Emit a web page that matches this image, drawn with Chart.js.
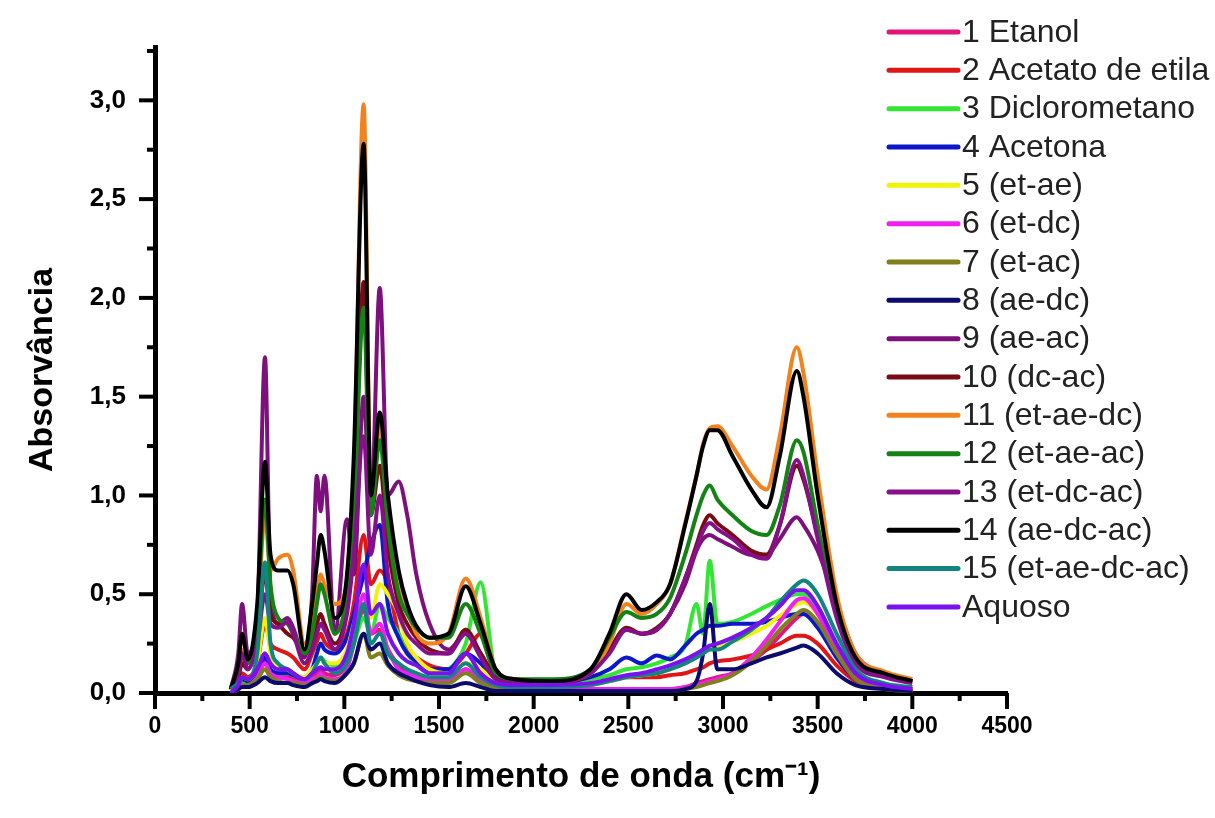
<!DOCTYPE html>
<html>
<head>
<meta charset="utf-8">
<script src="https://cdn.jsdelivr.net/npm/chart.js@4"></script>
<style>
html,body{margin:0;padding:0;background:#fff;}
#wrap{width:1215px;height:818px;position:relative;}
</style>
</head>
<body>
<div id="wrap"><canvas id="c"></canvas></div>
<script>
const FONT = '"Liberation Sans", Arial, Helvetica, sans-serif';

// shared wavenumber grid (cm-1)
const wavenumbers = [400, 440, 460, 490, 540, 581, 610, 650, 700, 730, 790, 830, 855, 875, 895, 950, 1014, 1050, 1102, 1140, 1187, 1230, 1287, 1332, 1380, 1450, 1550, 1641, 1720, 1800, 1900, 2100, 2300, 2400, 2490, 2570, 2650, 2720, 2800, 2860, 2895, 2930, 2970, 3050, 3150, 3230, 3300, 3390, 3425, 3500, 3600, 3700, 3850, 4000];

const seriesNames = ['1 Etanol', '2 Acetato de etila', '3 Diclorometano', '4 Acetona', '5 (et-ae)', '6 (et-dc)', '7 (et-ac)', '8 (ae-dc)', '9 (ae-ac)', '10 (dc-ac)', '11 (et-ae-dc)', '12 (et-ae-ac)', '13 (et-dc-ac)', '14 (ae-dc-ac)', '15 (et-ae-dc-ac)', 'Aquoso'];
const seriesColors = ['#e2157c', '#e01515', '#33e633', '#0c18c8', '#f2f20a', '#f020f0', '#7f7f1e', '#0b0b6e', '#7e107e', '#7a0a14', '#f2821e', '#148214', '#86108a', '#000000', '#138580', '#7a12ee'];

const etanol = [0.01,0.03,0.05,0.04,0.08, 0.16,0.1,0.08,0.08,0.07, 0.05,0.08,0.1,0.12,0.1, 0.09,0.15,0.25,0.42,0.3, 0.32,0.22,0.14,0.1,0.08, 0.06,0.06,0.12,0.06,0.03, 0.02,0.02,0.02,0.02,0.02, 0.02,0.02,0.02,0.03,0.05, 0.06,0.07,0.08,0.1,0.16, 0.22,0.29,0.38,0.4,0.34, 0.18,0.07,0.03,0.02];
const acetatoEtila = [0.01,0.05,0.1,0.08,0.15, 0.35,0.25,0.22,0.2,0.18, 0.12,0.2,0.26,0.3,0.26, 0.22,0.3,0.45,0.8,0.55, 0.62,0.55,0.3,0.22,0.18, 0.14,0.12,0.2,0.3,0.08, 0.05,0.04,0.05,0.06,0.08, 0.08,0.08,0.09,0.1,0.12, 0.13,0.15,0.16,0.17,0.19, 0.22,0.25,0.29,0.29,0.25, 0.14,0.06,0.03,0.02];
const diclorometano = [0.01,0.03,0.06,0.05,0.1, 0.2,0.12,0.1,0.1,0.09, 0.08,0.12,0.16,0.18,0.16, 0.14,0.18,0.25,0.38,0.3, 0.45,0.38,0.3,0.2,0.15, 0.1,0.12,0.25,0.56,0.1, 0.06,0.05,0.07,0.09,0.12, 0.13,0.15,0.18,0.24,0.45, 0.3,0.67,0.35,0.36,0.4, 0.44,0.47,0.5,0.5,0.42, 0.22,0.08,0.03,0.02];
const acetona = [0.01,0.04,0.07,0.06,0.1, 0.18,0.12,0.1,0.1,0.09, 0.07,0.12,0.2,0.25,0.22, 0.2,0.28,0.4,0.6,0.75, 0.85,0.45,0.28,0.2,0.16, 0.12,0.12,0.2,0.15,0.07, 0.05,0.05,0.08,0.12,0.18, 0.15,0.19,0.17,0.24,0.3, 0.32,0.34,0.34,0.35,0.35, 0.36,0.38,0.4,0.4,0.33, 0.18,0.07,0.03,0.02];
const etAe = [0.01,0.04,0.08,0.07,0.15, 0.38,0.2,0.14,0.12,0.1, 0.08,0.12,0.15,0.18,0.15, 0.15,0.22,0.35,0.5,0.38, 0.55,0.5,0.4,0.25,0.18, 0.12,0.1,0.15,0.12,0.05, 0.03,0.03,0.04,0.06,0.08, 0.09,0.1,0.12,0.15,0.18, 0.2,0.22,0.24,0.26,0.3, 0.34,0.39,0.45,0.46,0.4, 0.22,0.08,0.03,0.02];
const etDc = [0.0,0.02,0.04,0.04,0.08, 0.15,0.1,0.08,0.07,0.06, 0.05,0.07,0.08,0.1,0.08, 0.07,0.12,0.25,0.5,0.3, 0.35,0.22,0.12,0.1,0.08, 0.06,0.06,0.12,0.06,0.03, 0.02,0.02,0.02,0.02,0.02, 0.02,0.02,0.02,0.03,0.04, 0.05,0.06,0.07,0.1,0.18, 0.27,0.36,0.47,0.48,0.4, 0.22,0.08,0.03,0.01];
const etAc = [0.0,0.02,0.04,0.04,0.07, 0.12,0.08,0.06,0.05,0.05, 0.04,0.05,0.07,0.08,0.07, 0.06,0.1,0.15,0.3,0.18, 0.2,0.14,0.09,0.07,0.06, 0.05,0.05,0.1,0.05,0.02, 0.01,0.01,0.01,0.01,0.01, 0.01,0.01,0.01,0.02,0.03, 0.04,0.05,0.06,0.09,0.16, 0.24,0.32,0.4,0.42,0.36, 0.2,0.07,0.02,0.01];
const aeDc = [0.0,0.02,0.03,0.03,0.05, 0.08,0.06,0.05,0.05,0.04, 0.03,0.05,0.06,0.07,0.06, 0.05,0.1,0.15,0.3,0.22, 0.25,0.15,0.1,0.08,0.06, 0.04,0.03,0.05,0.03,0.01, 0.01,0.01,0.01,0.01,0.01, 0.01,0.01,0.01,0.02,0.06, 0.2,0.45,0.12,0.12,0.15, 0.18,0.2,0.23,0.24,0.2, 0.1,0.04,0.02,0.01];
const aeAc = [0.02,0.2,0.45,0.2,0.4, 1.7,0.5,0.35,0.38,0.33, 0.18,0.5,1.1,0.92,1.1, 0.3,0.88,0.6,1.5,0.9, 2.05,1.0,1.07,0.9,0.6, 0.35,0.22,0.3,0.2,0.08, 0.06,0.06,0.1,0.22,0.32, 0.3,0.32,0.4,0.55,0.72, 0.78,0.8,0.78,0.74,0.7, 0.7,0.78,0.89,0.85,0.72, 0.45,0.2,0.1,0.06];
const dcAc = [0.02,0.08,0.15,0.12,0.3, 0.6,0.4,0.35,0.3,0.28, 0.2,0.25,0.35,0.4,0.35, 0.25,0.45,0.9,2.08,0.9, 1.15,0.75,0.45,0.35,0.28, 0.22,0.2,0.32,0.2,0.08, 0.05,0.05,0.1,0.22,0.33, 0.3,0.33,0.4,0.58,0.75, 0.85,0.9,0.86,0.8,0.72, 0.7,0.85,1.15,1.08,0.8, 0.4,0.16,0.09,0.06];
const etAeDc = [0.02,0.12,0.22,0.15,0.35, 0.9,0.62,0.68,0.7,0.62, 0.25,0.35,0.5,0.6,0.55, 0.45,0.55,1.1,2.98,1.0, 1.35,0.9,0.55,0.42,0.3, 0.25,0.3,0.58,0.38,0.12, 0.07,0.06,0.1,0.25,0.45, 0.4,0.45,0.55,0.86,1.1, 1.26,1.34,1.35,1.25,1.1, 1.03,1.3,1.75,1.62,1.1, 0.5,0.2,0.11,0.07];
const etAeAc = [0.02,0.1,0.2,0.15,0.4, 0.98,0.55,0.38,0.35,0.3, 0.2,0.3,0.45,0.55,0.5, 0.3,0.5,0.9,1.95,0.9, 1.28,0.85,0.5,0.4,0.33, 0.28,0.28,0.45,0.3,0.1, 0.07,0.07,0.12,0.28,0.41, 0.38,0.4,0.48,0.7,0.9, 1.0,1.05,0.98,0.9,0.82, 0.8,0.95,1.28,1.22,0.85, 0.4,0.15,0.09,0.06];
const etDcAc = [0.02,0.1,0.2,0.12,0.25, 0.5,0.35,0.33,0.36,0.3, 0.15,0.22,0.3,0.35,0.32, 0.22,0.4,0.7,1.3,0.7, 1.0,0.6,0.4,0.3,0.25, 0.2,0.2,0.3,0.18,0.07, 0.05,0.05,0.1,0.2,0.32, 0.3,0.32,0.4,0.58,0.73, 0.82,0.86,0.83,0.78,0.7, 0.68,0.85,1.18,1.1,0.78, 0.38,0.15,0.08,0.05];
const aeDcAc = [0.02,0.15,0.3,0.17,0.45, 1.17,0.7,0.62,0.62,0.55, 0.22,0.45,0.65,0.8,0.72, 0.38,0.6,1.2,2.78,1.0, 1.42,1.0,0.62,0.45,0.34, 0.28,0.3,0.54,0.35,0.12, 0.07,0.06,0.12,0.3,0.5, 0.42,0.46,0.55,0.85,1.1, 1.25,1.33,1.33,1.2,1.03, 0.94,1.2,1.63,1.5,1.0, 0.45,0.18,0.1,0.06];
const etAeDcAc = [0.02,0.05,0.08,0.07,0.2, 0.66,0.25,0.15,0.12,0.1, 0.07,0.1,0.15,0.18,0.15, 0.1,0.15,0.25,0.45,0.25, 0.3,0.2,0.15,0.12,0.1, 0.08,0.08,0.15,0.08,0.04, 0.03,0.03,0.04,0.06,0.08, 0.09,0.1,0.12,0.15,0.18, 0.2,0.22,0.22,0.26,0.32, 0.38,0.46,0.55,0.57,0.5, 0.3,0.12,0.05,0.03];
const aquoso = [0.0,0.04,0.08,0.07,0.12, 0.2,0.15,0.12,0.12,0.1, 0.07,0.1,0.12,0.13,0.12, 0.12,0.2,0.35,0.65,0.4, 0.45,0.3,0.2,0.16,0.14, 0.1,0.1,0.2,0.1,0.05, 0.04,0.04,0.05,0.07,0.09, 0.1,0.12,0.14,0.17,0.2, 0.22,0.24,0.25,0.28,0.33, 0.38,0.44,0.52,0.52,0.44, 0.25,0.1,0.04,0.02];

const seriesValues = [etanol, acetatoEtila, diclorometano, acetona, etAe, etDc, etAc, aeDc, aeAc, dcAc, etAeDc, etAeAc, etDcAc, aeDcAc, etAeDcAc, aquoso];

const datasets = seriesValues.map((vals, i) => ({
  label: seriesNames[i],
  data: wavenumbers.map((w, k) => ({x: w, y: vals[k]})),
  borderColor: seriesColors[i],
  backgroundColor: seriesColors[i],
  borderWidth: 4,
  pointRadius: 0,
  fill: false,
  cubicInterpolationMode: 'monotone',
  order: seriesValues.length - i
}));

const axisTicks = {
  id: 'axisTicks',
  afterDraw(chart) {
    const {ctx, chartArea: a, scales: {x, y}} = chart;
    ctx.save();
    ctx.strokeStyle = '#000';
    ctx.lineWidth = 4;
    ctx.lineCap = 'butt';
    for (let v = 0; v <= 4500; v += 250) {
      const px = x.getPixelForValue(v);
      const len = (v % 500 === 0) ? 16 : 8;
      ctx.beginPath(); ctx.moveTo(px, a.bottom); ctx.lineTo(px, a.bottom + len); ctx.stroke();
    }
    for (let k = 0; k <= 13; k++) {
      const v = k * 0.25;
      const py = y.getPixelForValue(v);
      const len = (k % 2 === 0) ? 16 : 8;
      ctx.beginPath(); ctx.moveTo(a.left, py); ctx.lineTo(a.left - len, py); ctx.stroke();
    }
    ctx.restore();
  }
};

const sideLegend = {
  id: 'sideLegend',
  afterDraw(chart) {
    const ctx = chart.ctx;
    ctx.save();
    ctx.font = '32px ' + FONT;
    ctx.textBaseline = 'middle';
    ctx.textAlign = 'left';
    chart.data.datasets.forEach((ds, i) => {
      const yy = 32 + i * 38.33;
      ctx.strokeStyle = ds.borderColor;
      ctx.lineWidth = 5;
      ctx.lineCap = 'round';
      ctx.beginPath(); ctx.moveTo(889, yy); ctx.lineTo(958, yy); ctx.stroke();
      ctx.fillStyle = '#222222';
      ctx.fillText(ds.label, 962, yy + 1);
    });
    ctx.restore();
  }
};

new Chart(document.getElementById('c'), {
  type: 'line',
  data: {datasets},
  options: {
    responsive: true,
    maintainAspectRatio: false,
    animation: false,
    events: [],
    layout: {padding: {left: 0, right: 208, top: 47, bottom: 0}},
    plugins: {legend: {display: false}, tooltip: {enabled: false}},
    scales: {
      x: {
        type: 'linear', min: 0, max: 4500,
        afterFit(s) { s.height = 125; },
        border: {display: true, color: '#000', width: 5},
        grid: {display: false, drawTicks: false},
        ticks: {stepSize: 500, padding: 20, maxRotation: 0, autoSkip: false, color: '#000',
          font: {family: FONT, size: 23, weight: 'bold'},
          callback: v => String(v)},
        title: {display: true, text: 'Comprimento de onda (cm⁻¹)', color: '#000',
          font: {family: FONT, size: 35, weight: 'bold'}, padding: {top: 0, bottom: 20}}
      },
      y: {
        min: 0, max: 3.27,
        afterFit(s) { s.width = 155; },
        border: {display: true, color: '#000', width: 5},
        grid: {display: false, drawTicks: false},
        ticks: {stepSize: 0.5, includeBounds: false, padding: 29, color: '#000',
          font: {family: FONT, size: 26, weight: 'bold'},
          callback: v => Number(v).toFixed(1).replace('.', ',')},
        title: {display: true, text: 'Absorvância', color: '#000',
          font: {family: FONT, size: 34, weight: 'bold'}, padding: {top: 22, bottom: 0}}
      }
    }
  },
  plugins: [axisTicks, sideLegend]
});
</script>
</body>
</html>
